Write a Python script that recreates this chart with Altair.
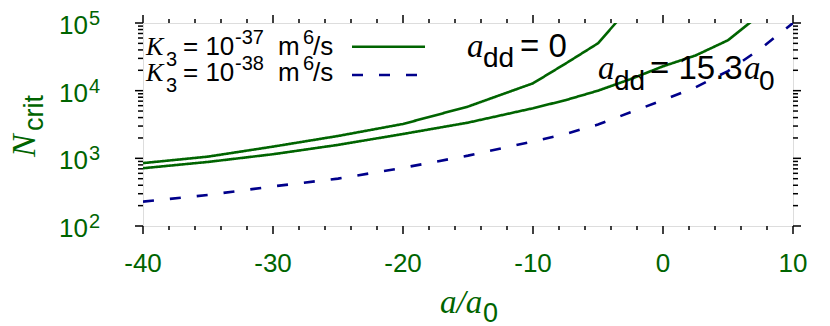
import altair as alt
import pandas as pd

GREEN = "#006400"
NAVY = "#00008b"
SANS = "Liberation Sans"
SERIF = "Liberation Serif"

# ---- data ----
x_vals = [-40, -35, -30, -25, -20, -15, -10, -7.5, -5, -2.5, 0, 2.5, 5, 7.5, 10]
n_k37_add0 = [850, 1060, 1490, 2140, 3220, 5820, 12850, 25100, 50100, 178000]
n_k37_add15 = [714, 885, 1150, 1580, 2290, 3370, 5500, 7240, 10000, 14800,
               22900, 33100, 55600, 135000]
n_k38 = [229, 288, 385, 501, 724, 1096, 1778, 2290, 3160, 4790, 7240, 11200,
         19500, 41700, 100000]

series_names = ["K37_add0", "K37_add15", "K38"]
series_values = [n_k37_add0, n_k37_add15, n_k38]

x_major = [-40, -30, -20, -10, 0, 10]
x_labels = ["-40", "-30", "-20", "-10", "0", "10"]
x_minor = [v for v in range(-40, 11, 2) if v not in x_major]
y_major = [100, 1000, 10000, 100000]
y_exp = ["2", "3", "4", "5"]
y_minor = [m * 10 ** d for d in range(2, 5) for m in range(2, 10)]

rows = []
for name, vals in zip(series_names, series_values):
    for xv, nv in zip(x_vals, vals):
        rows.append({"a": xv, "N": nv, "series": name})
df = pd.DataFrame(rows)

W, H = 650, 203
xs = alt.Scale(domain=[-40, 10], nice=False, zero=False)
ys = alt.Scale(type="log", domain=[100, 100000], nice=False)

lines = alt.Chart(df).mark_line(clip=True, strokeWidth=2.6).encode(
    x=alt.X("a:Q", scale=xs, axis=None),
    y=alt.Y("N:Q", scale=ys, axis=None),
    color=alt.Color("series:N", scale=alt.Scale(domain=series_names,
                                                range=[GREEN, GREEN, NAVY]), legend=None),
    strokeDash=alt.StrokeDash("series:N", scale=alt.Scale(domain=series_names,
                                                          range=[[1, 0], [1, 0], [11, 16]]),
                              legend=None),
)

def xticks(vals, y1, y2):
    return alt.Chart(pd.DataFrame({"a": vals})).mark_rule(color="black", strokeWidth=1.5).encode(
        x=alt.X("a:Q", scale=xs, axis=None), y=alt.value(y1), y2=alt.value(y2))

def yticks(vals, x1, x2):
    return alt.Chart(pd.DataFrame({"N": vals})).mark_rule(color="black", strokeWidth=1.5).encode(
        y=alt.Y("N:Q", scale=ys, axis=None), x=alt.value(x1), x2=alt.value(x2))

ticks = [
    xticks(x_major, H, H + 8), xticks(x_minor, H, H + 4),
    xticks(x_major, 0, -8), xticks(x_minor, 0, -4),
    yticks(y_major, 0, -8), yticks(y_minor, 0, -5),
    yticks(y_major, W, W + 8), yticks(y_minor, W, W + 5),
]

xlab = alt.Chart(pd.DataFrame({"a": x_major, "lab": x_labels})).mark_text(
    font=SANS, fontSize=26, color=GREEN, align="center", baseline="alphabetic").encode(
    x=alt.X("a:Q", scale=xs, axis=None), y=alt.value(H + 46), text="lab:N")

ylab_df = pd.DataFrame({"N": y_major, "exp": y_exp, "base": ["10"] * 4})
ylab_base = alt.Chart(ylab_df).mark_text(font=SANS, fontSize=26, color=GREEN, align="right",
                                         baseline="alphabetic", dy=11).encode(
    y=alt.Y("N:Q", scale=ys, axis=None), x=alt.value(-55), text="base:N")
ylab_exp = alt.Chart(ylab_df).mark_text(font=SANS, fontSize=20, color=GREEN, align="left",
                                        baseline="alphabetic", dy=2).encode(
    y=alt.Y("N:Q", scale=ys, axis=None), x=alt.value(-54), text="exp:N")


def txt(s, x, y, size, font=SANS, style="normal", color="black", angle=0):
    return alt.Chart(alt.Data(values=[{}])).mark_text(
        text=s, font=font, fontSize=size, fontStyle=style, color=color,
        align="left", baseline="alphabetic", angle=angle).encode(
        x=alt.value(x), y=alt.value(y))


def legend_row(exp, base_y):
    return [
        txt("K", 3, base_y, 26, SERIF, "italic"),
        txt("3", 23, base_y + 11, 20),
        txt("= 10", 40, base_y, 26),
        txt(exp, 92, base_y - 11, 20),
        txt("m", 135, base_y, 26),
        txt("6", 160, base_y - 11, 20),
        txt("/s", 170, base_y, 26),
    ]

texts = legend_row("-37", 32) + legend_row("-38", 57.5) + [
    # annotations
    txt("a", 324, 34, 33, SERIF, "italic"),
    txt("dd", 340, 44, 28),
    txt("= 0", 377, 34, 33),
    txt("a", 455, 56, 33, SERIF, "italic"),
    txt("dd", 471, 66.5, 28),
    txt("= 15.3", 507, 56, 33),
    txt("a", 601, 56, 33, SERIF, "italic"),
    txt("0", 616, 67, 28),
    # axis titles
    txt("a/a", 297, 290, 33, SERIF, "italic", GREEN),
    txt("0", 340, 299, 27, SANS, "normal", GREEN),
    txt("N", -108, 134, 34, SERIF, "italic", GREEN, 270),
    txt("crit", -100, 108, 27, SANS, "normal", GREEN, 270),
]

leg_solid = alt.Chart(alt.Data(values=[{}])).mark_rule(color=GREEN, strokeWidth=2.6).encode(
    x=alt.value(209), x2=alt.value(282), y=alt.value(23.7))
leg_dash = alt.Chart(alt.Data(values=[{}])).mark_rule(color=NAVY, strokeWidth=2.6,
                                                      strokeDash=[11, 16]).encode(
    x=alt.value(209), x2=alt.value(282), y=alt.value(52))

chart = alt.layer(lines, *ticks, xlab, ylab_base, ylab_exp, leg_solid, leg_dash, *texts).properties(
    width=W, height=H,
    autosize=alt.AutoSizeParams(type="none"),
    padding={"left": 135, "top": 15, "right": 29, "bottom": 100},
).configure_view(stroke="black", strokeWidth=2).configure(background="white")

chart.save("out.html", embed_options={"renderer": "svg", "actions": False})
